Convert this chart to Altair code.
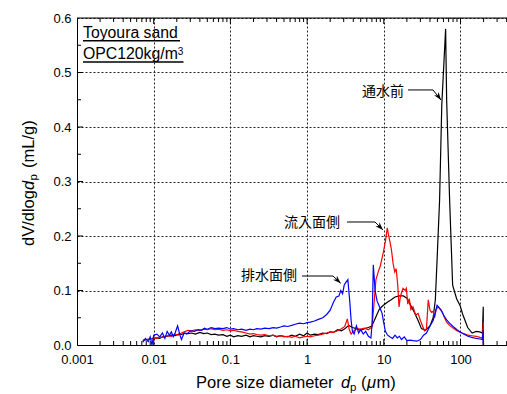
import altair as alt
import pandas as pd

# ---------------- data ----------------
black_x = [0.0072, 0.008, 0.009, 0.01, 0.011, 0.012, 0.013, 0.015, 0.017, 0.019,
           0.021, 0.023, 0.025, 0.028, 0.031, 0.035, 0.04, 0.045, 0.05, 0.056,
           0.063, 0.07, 0.08, 0.09, 0.1, 0.11, 0.125, 0.14, 0.16, 0.18,
           0.2, 0.22, 0.25, 0.28, 0.32, 0.36, 0.4, 0.45, 0.5, 0.56,
           0.63, 0.7, 0.8, 0.9, 1.0, 1.1, 1.25, 1.4, 1.6, 1.8,
           2.0, 2.2, 2.5, 2.8, 3.1, 3.5, 3.9, 4.4, 5.0, 5.6,
           6.3, 7.0, 7.8, 8.7, 9.7, 11, 12.5, 14, 16, 18,
           20, 22, 25, 28, 31, 35, 40, 44, 47, 50,
           53.4, 57, 64, 66, 72, 79, 89, 99, 107, 116,
           124, 142, 160, 178, 193, 198, 198.5]
black_y = [0.008, 0.01, 0.011, 0.012, 0.013, 0.012, 0.015, 0.016, 0.018, 0.017,
           0.02, 0.019, 0.022, 0.021, 0.022, 0.02, 0.023, 0.021, 0.022, 0.019,
           0.02, 0.018, 0.019, 0.016, 0.018, 0.015, 0.017, 0.016, 0.018, 0.015,
           0.017, 0.016, 0.015, 0.017, 0.016, 0.018, 0.015, 0.017, 0.016, 0.015,
           0.018, 0.016, 0.02, 0.017, 0.022, 0.018, 0.02, 0.019, 0.022, 0.021,
           0.024, 0.023, 0.028, 0.026, 0.03, 0.036, 0.032, 0.03, 0.027, 0.03,
           0.032, 0.035, 0.05, 0.065, 0.072, 0.078, 0.083, 0.088, 0.09, 0.09,
           0.086, 0.075, 0.06, 0.045, 0.03, 0.027, 0.035, 0.05, 0.083, 0.17,
           0.266, 0.44, 0.58, 0.45, 0.27, 0.11, 0.085, 0.072, 0.056, 0.043,
           0.032, 0.022, 0.025, 0.024, 0.022, 0.07, 0.0]

red_x = [0.0072, 0.008, 0.009, 0.01, 0.011, 0.012, 0.013, 0.015, 0.017, 0.019,
         0.021, 0.023, 0.025, 0.028, 0.031, 0.035, 0.04, 0.045, 0.05, 0.056,
         0.063, 0.07, 0.08, 0.09, 0.1, 0.11, 0.125, 0.14, 0.16, 0.18,
         0.2, 0.22, 0.25, 0.28, 0.32, 0.36, 0.4, 0.45, 0.5, 0.56,
         0.63, 0.7, 0.8, 0.9, 1.0, 1.1, 1.25, 1.4, 1.6, 1.8,
         2.0, 2.2, 2.5, 2.8, 3.1, 3.35, 3.55, 3.75, 4.0, 4.4,
         5.0, 5.6, 6.3, 7.0, 7.4, 7.9, 8.5, 9.0, 9.8, 10.5,
         11.1, 11.6, 12.2, 12.6, 13.2, 13.9, 14.5, 15.2, 15.8, 16.5,
         17.8, 19.0, 19.7, 20.5, 21.5, 22.5, 24, 26, 28, 30,
         32, 34, 36, 38, 40, 42, 44, 46, 48, 51,
         54, 58, 62, 66, 72, 80, 88, 97, 105, 115,
         125, 140, 160, 180, 193, 198, 198.5]
red_y = [0.009, 0.01, 0.011, 0.013, 0.012, 0.015, 0.014, 0.017, 0.016, 0.02,
         0.018, 0.022, 0.024, 0.027, 0.026, 0.028, 0.027, 0.029, 0.028, 0.03,
         0.028, 0.029, 0.027, 0.028, 0.026, 0.027, 0.025, 0.024, 0.022, 0.02,
         0.021, 0.019, 0.018, 0.019, 0.017, 0.018, 0.016, 0.017, 0.015, 0.016,
         0.014, 0.016, 0.013, 0.015, 0.016, 0.015, 0.017, 0.018, 0.02, 0.022,
         0.024, 0.023, 0.026, 0.03, 0.034, 0.048, 0.028, 0.02, 0.025, 0.03,
         0.029, 0.031, 0.028, 0.033, 0.07, 0.12, 0.135, 0.145, 0.168, 0.19,
         0.215, 0.2, 0.185, 0.174, 0.15, 0.134, 0.14, 0.11, 0.07, 0.09,
         0.104, 0.1, 0.104, 0.075, 0.085, 0.065, 0.07, 0.055, 0.058, 0.045,
         0.035, 0.026, 0.03, 0.083, 0.064, 0.06, 0.062, 0.05, 0.065, 0.07,
         0.066, 0.06, 0.05, 0.042, 0.036, 0.031, 0.027, 0.024, 0.022, 0.02,
         0.018, 0.017, 0.016, 0.014, 0.013, 0.042, 0.0]

blue_x = [0.0072, 0.0078, 0.0085, 0.009, 0.0095, 0.01, 0.011, 0.012, 0.013, 0.014,
          0.015, 0.016, 0.017, 0.018, 0.019, 0.0205, 0.022, 0.023, 0.025, 0.027,
          0.03, 0.034, 0.038, 0.042, 0.046, 0.05, 0.056, 0.063, 0.07, 0.08,
          0.09, 0.1, 0.11, 0.125, 0.14, 0.16, 0.18, 0.2, 0.22, 0.25,
          0.28, 0.32, 0.36, 0.4, 0.45, 0.5, 0.56, 0.63, 0.7, 0.8,
          0.9, 1.0, 1.1, 1.25, 1.4, 1.6, 1.8, 2.0, 2.2, 2.4,
          2.6, 2.75, 2.9, 3.05, 3.2, 3.4, 3.6, 3.75, 3.9, 4.1,
          4.4, 4.7, 5.0, 5.4, 5.8, 6.3, 6.8, 7.05, 7.3, 7.7,
          8.2, 8.8, 9.5, 10.0, 10.5, 11.2, 12.0, 13.0, 14.0, 15.0,
          16.0, 17.0, 18.5, 20, 22, 24, 27, 30, 33, 36,
          40, 44, 47, 49.5, 53, 56, 60, 66, 72, 80,
          90, 99, 110, 125, 140, 160, 180, 193, 198, 198.5]
blue_y = [0.005, 0.012, 0.006, 0.015, 0.0, 0.018, 0.02, 0.015, 0.022, 0.012,
          0.025, 0.018, 0.024, 0.015, 0.022, 0.035, 0.018, 0.01, 0.022, 0.02,
          0.026, 0.025, 0.028, 0.027, 0.031, 0.029, 0.032, 0.03, 0.031, 0.03,
          0.032, 0.029, 0.03, 0.028, 0.029, 0.027, 0.029, 0.028, 0.03, 0.029,
          0.031, 0.03, 0.032, 0.031, 0.033, 0.035, 0.034, 0.036, 0.038, 0.04,
          0.039, 0.041, 0.042, 0.044, 0.047, 0.05, 0.056, 0.064, 0.078, 0.088,
          0.09, 0.1, 0.094, 0.11, 0.115, 0.12, 0.08, 0.045, 0.025, 0.02,
          0.035, 0.022, 0.028, 0.02, 0.025, 0.016, 0.013, 0.04, 0.147, 0.1,
          0.08, 0.07, 0.058, 0.04, 0.025, 0.018, 0.015, 0.012, 0.018, 0.013,
          0.016, 0.01, 0.015, 0.008, 0.009, 0.008, 0.007, 0.01, 0.018, 0.022,
          0.035, 0.045, 0.06, 0.073, 0.068, 0.064, 0.055, 0.046, 0.04, 0.034,
          0.028, 0.024, 0.02, 0.016, 0.014, 0.012, 0.011, 0.01, 0.027, 0.0]

# annotation labels and arrow geometry (data units)
ann_text = ["通水前", "流入面側", "排水面側"]
ann_text_x = [18.3, 2.69, 0.738]
ann_text_y = [0.464, 0.224, 0.1266]
arrow_start_x = [20.7, 3.31, 0.858]
arrow_bend_x = [43.8, 7.67, 2.176]
arrow_line_y = [0.468, 0.2257, 0.1266]
arrow_tip_x = [55.7, 9.76, 2.742]
arrow_tip_y = [0.4495, 0.211, 0.1132]
arrow_angle = [144, 136, 134]

# axis ticks
x_major = [0.001, 0.01, 0.1, 1, 10, 100]
y_major = [0.0, 0.1, 0.2, 0.3, 0.4, 0.5, 0.6]
x_minor = [m * 10.0 ** e for e in range(-3, 3) for m in range(2, 10) if m * 10.0 ** e <= 404]
y_minor = [0.05, 0.15, 0.25, 0.35, 0.45, 0.55]

# ---------------- chart ----------------
W, H = 430, 327
FONT = "Liberation Sans"
CJK = "Noto Sans CJK JP"

xscale = alt.Scale(type="log", domain=[0.001, 404], nice=False)
yscale = alt.Scale(domain=[0, 0.6], nice=False, zero=False)

xaxis = alt.Axis(values=x_major, format="~g", title=None, grid=True, gridDash=[2, 2],
                 gridColor="#222222", gridWidth=1, ticks=False, tickSize=0,
                 labelPadding=8, labelFontSize=13, labelFont=FONT, labelColor="black",
                 domainColor="black", domainWidth=1, labelOverlap=False, labelFlush=False)
yaxis = alt.Axis(values=y_major, format=".1f", title=None, grid=True, gridDash=[2, 2],
                 gridColor="#222222", gridWidth=1, ticks=False, tickSize=0,
                 labelPadding=6, labelFontSize=13, labelFont=FONT, labelColor="black",
                 domainColor="black", domainWidth=1, labelOverlap=False, labelFlush=False)


def X():
    return alt.X("x:Q", scale=xscale, axis=xaxis)


def Y():
    return alt.Y("y:Q", scale=yscale, axis=yaxis)


def series(xs, ys, color):
    df = pd.DataFrame({"x": xs, "y": ys, "i": list(range(len(xs)))})
    return alt.Chart(df).mark_line(color=color, strokeWidth=1.2, clip=True).encode(
        x=X(), y=Y(), order="i:Q")


ONE = pd.DataFrame({"k": [0]})


def label(s, px, py, size=16.5, italic=False, angle=0, font=FONT):
    return alt.Chart(ONE).mark_text(
        text=s, fontSize=size, font=font, fontStyle="italic" if italic else "normal",
        align="left", baseline="alphabetic", angle=angle, color="black"
    ).encode(x=alt.value(px), y=alt.value(py))


def hrule(x1, x2, y, w=1.0):
    return alt.Chart(ONE).mark_rule(color="black", strokeWidth=w).encode(
        x=alt.value(x1), x2=alt.value(x2), y=alt.value(y))


layers = []

# ticks (inside)
def xticks(vals, length):
    df = pd.DataFrame({"x": vals})
    bot = alt.Chart(df).mark_rule(color="black", strokeWidth=1).encode(
        x=X(), y=alt.value(H), y2=alt.value(H - length))
    top = alt.Chart(df).mark_rule(color="black", strokeWidth=1).encode(
        x=X(), y=alt.value(0), y2=alt.value(length))
    return [bot, top]


def yticks(vals, length):
    df = pd.DataFrame({"y": vals})
    return alt.Chart(df).mark_rule(color="black", strokeWidth=1).encode(
        y=Y(), x=alt.value(0), x2=alt.value(length))


layers.append(series(black_x, black_y, "black"))
layers += xticks(x_minor, 4)
layers += xticks(x_major[1:], 6)
layers.append(yticks(y_minor, 4))
layers.append(yticks(y_major[1:-1], 6))
layers.append(hrule(0, W, 0))

layers.append(series(red_x, red_y, "#ff0000"))
layers.append(series(blue_x, blue_y, "#0000ff"))

# arrows
arr_rows = []
for k in range(3):
    arr_rows.append({"x": arrow_start_x[k], "y": arrow_line_y[k], "k": k, "o": 0})
    arr_rows.append({"x": arrow_bend_x[k], "y": arrow_line_y[k], "k": k, "o": 1})
    arr_rows.append({"x": arrow_tip_x[k], "y": arrow_tip_y[k], "k": k, "o": 2})
arr_df = pd.DataFrame(arr_rows)
layers.append(alt.Chart(arr_df).mark_line(color="black", strokeWidth=1).encode(
    x=X(), y=Y(), detail="k:N", order="o:Q"))

head_df = pd.DataFrame({"x": arrow_tip_x, "y": arrow_tip_y, "a": arrow_angle})
layers.append(alt.Chart(head_df).mark_point(
    shape="M0,0 L-0.7,2 L0,1.4 L0.7,2 Z", filled=True, color="black", opacity=1,
    size=64, strokeWidth=0).encode(x=X(), y=Y(), angle=alt.Angle("a:Q", scale=None)))

ann_df = pd.DataFrame({"x": ann_text_x, "y": ann_text_y, "t": ann_text})
layers.append(alt.Chart(ann_df).mark_text(
    font=CJK, fontSize=14, align="right", baseline="middle", color="black"
).encode(x=X(), y=Y(), text="t:N"))

# corner labels
layers.append(label("Toyoura sand", 6, 19.5, size=15.8))
layers.append(hrule(6, 103, 22.7, 1.5))
layers.append(label("OPC120kg/m", 6, 41.3, size=15.8))
layers.append(label("3", 100.8, 37, size=10))
layers.append(hrule(6, 106.5, 43.9, 1.5))

# x title
layers.append(label("Pore size diameter", 119, 370))
layers.append(label("d", 264, 370, italic=True))
layers.append(label("p", 273, 373, size=11.5))
layers.append(label("(", 284, 370))
layers.append(label("μ", 290, 370, italic=True))
layers.append(label("m)", 299.5, 370))

# y title (rotated)
layers.append(label("dV/dlog", -43.5, 228, angle=270))
layers.append(label("d", -43.5, 172, italic=True, angle=270))
layers.append(label("p", -40.5, 162.5, size=11.5, angle=270))
layers.append(label("(mL/g)", -43.5, 150, angle=270))

chart = alt.layer(*layers).properties(
    width=W, height=H,
    autosize=alt.AutoSizeParams(type="none"),
    padding={"left": 77, "top": 18, "right": 0, "bottom": 49},
    background="white",
).configure_view(stroke=None).configure(font=FONT)

chart.save("out.html", embed_options={"renderer": "svg", "actions": False})
